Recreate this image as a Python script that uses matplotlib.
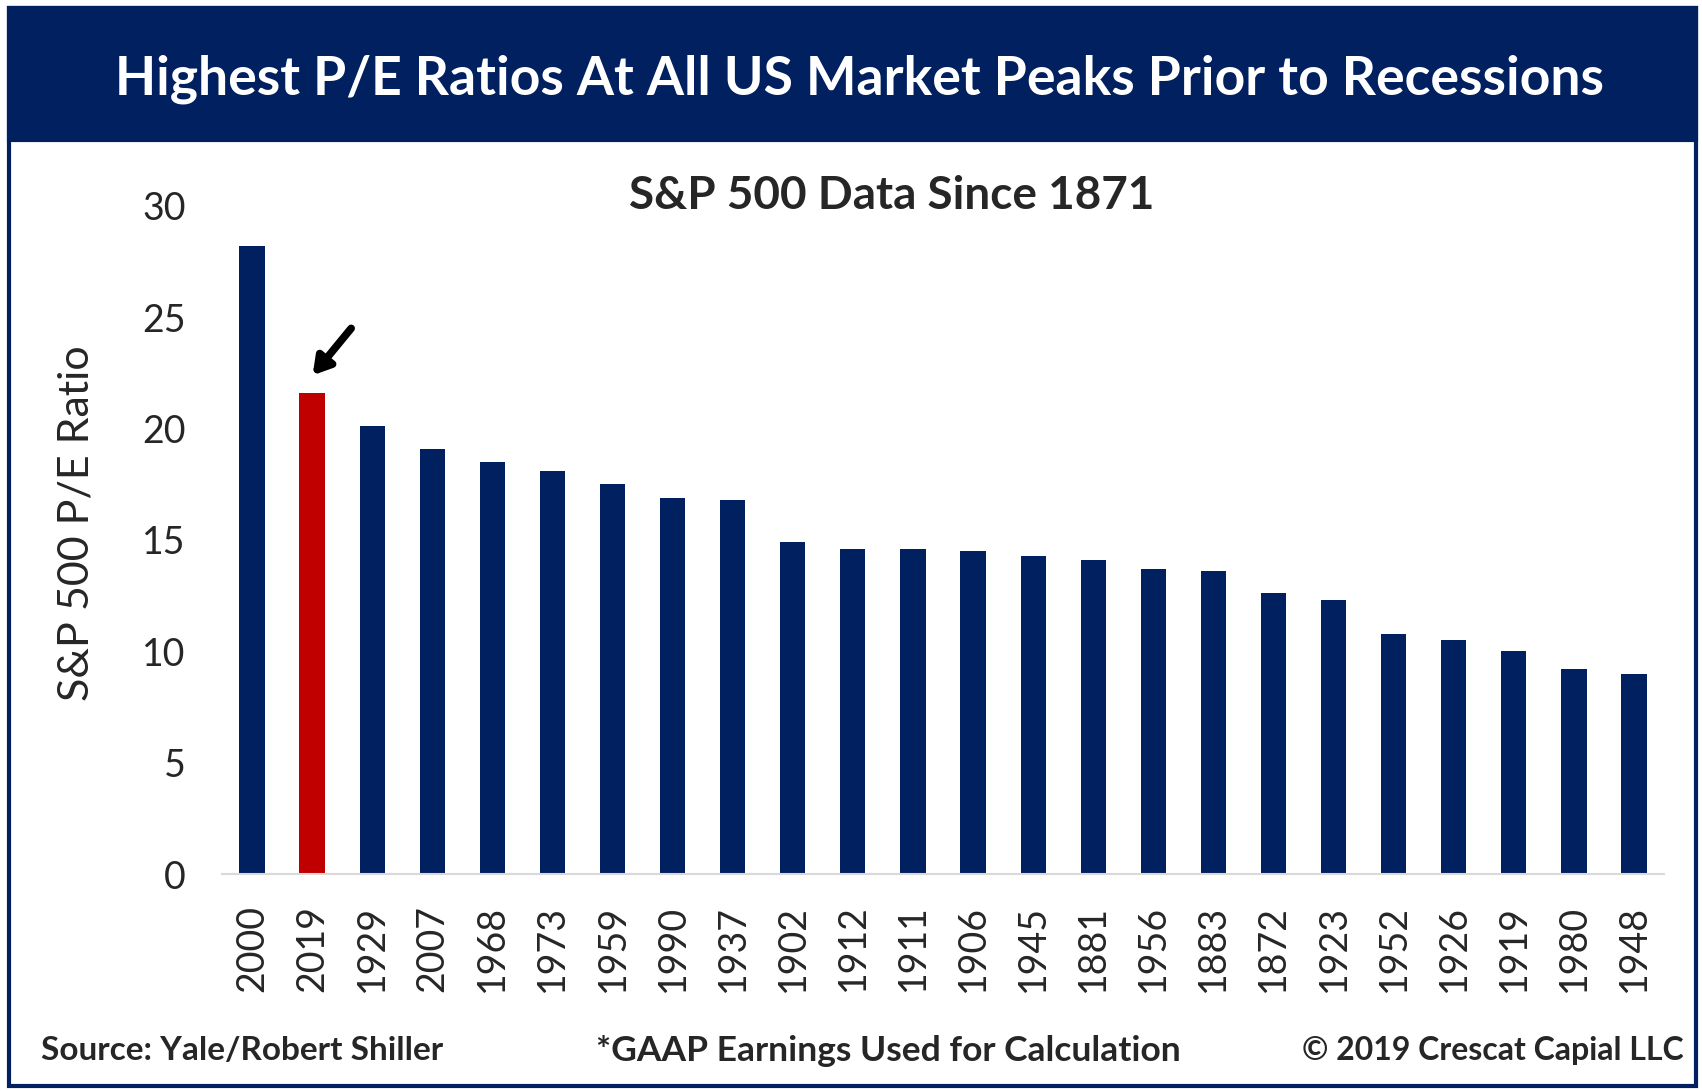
import matplotlib.pyplot as plt
from matplotlib.patches import Rectangle

plt.rcParams['font.family'] = ['Lato', 'DejaVu Sans']

years = ['2000', '2019', '1929', '2007', '1968', '1973', '1959', '1990', '1937', '1902',
         '1912', '1911', '1906', '1945', '1881', '1956', '1883', '1872', '1923', '1952',
         '1926', '1919', '1980', '1948']
pe = [28.2, 21.6, 20.1, 19.1, 18.5, 18.1, 17.5, 16.9, 16.8, 14.9,
      14.6, 14.6, 14.5, 14.3, 14.1, 13.7, 13.6, 12.6, 12.3, 10.8,
      10.5, 10.0, 9.2, 9.0]
highlight = '2019'
yticks = [0, 5, 10, 15, 20, 25, 30]

navy = '#002060'
red = '#C00000'
txt = '#262626'

fig = plt.figure(figsize=(17.02, 10.91), dpi=100)

# frame and title band
fig.patches.append(Rectangle((0.0053, 0.0046), 0.9912, 0.9881, transform=fig.transFigure,
                             fill=False, edgecolor=navy, linewidth=3, zorder=0))
fig.patches.append(Rectangle((0.0053, 0.8717), 0.9912, 0.121, transform=fig.transFigure,
                             facecolor=navy, edgecolor=navy, linewidth=3, zorder=0))
fig.text(0.505, 0.9276, 'Highest P/E Ratios At All US Market Peaks Prior to Recessions',
         ha='center', va='center', color='white', fontsize=38.5, fontweight='bold')

ax = fig.add_axes([0.1304, 0.1989, 0.8473, 0.6123])
colors = [red if y == highlight else navy for y in years]
ax.bar(range(len(years)), pe, width=0.42, color=colors)
ax.set_xlim(-0.5, len(years) - 0.5)
ax.set_ylim(0, 30)
ax.set_yticks(yticks)
ax.set_xticks(range(len(years)))
ax.set_xticklabels(years, rotation=90)
ax.tick_params(axis='both', length=0, labelsize=27, labelcolor=txt)
ax.tick_params(axis='x', pad=22)
ax.tick_params(axis='y', pad=26)
for s in ['top', 'right', 'left']:
    ax.spines[s].set_visible(False)
ax.spines['bottom'].set_color('#d9d9d9')
ax.spines['bottom'].set_linewidth(1.5)

i = years.index(highlight)
ax.annotate('', xy=(i - 0.02, pe[i] + 0.7), xytext=(i + 0.68, pe[i] + 3.0),
            arrowprops=dict(arrowstyle='-|>,head_width=0.6,head_length=1.0',
                            color='black', lw=5.5))

fig.text(0.0447, 0.52, 'S&P 500 P/E Ratio', rotation=90, ha='center', va='center',
         fontsize=31, color=txt)
fig.text(0.524, 0.8203, 'S&P 500 Data Since 1871', ha='center', va='center',
         fontsize=33, fontweight='bold', color=txt)

fig.text(0.024, 0.0367, 'Source: Yale/Robert Shiller', ha='left', va='center',
         fontsize=24, fontweight='bold', color=txt)
fig.text(0.522, 0.0367, '*GAAP Earnings Used for Calculation', ha='center', va='center',
         fontsize=25.5, fontweight='bold', color=txt)
fig.text(0.989, 0.0367, '\u00a9 2019 Crescat Capial LLC', ha='right', va='center',
         fontsize=23, fontweight='bold', color=txt)

fig.savefig('out.png', dpi=100)
